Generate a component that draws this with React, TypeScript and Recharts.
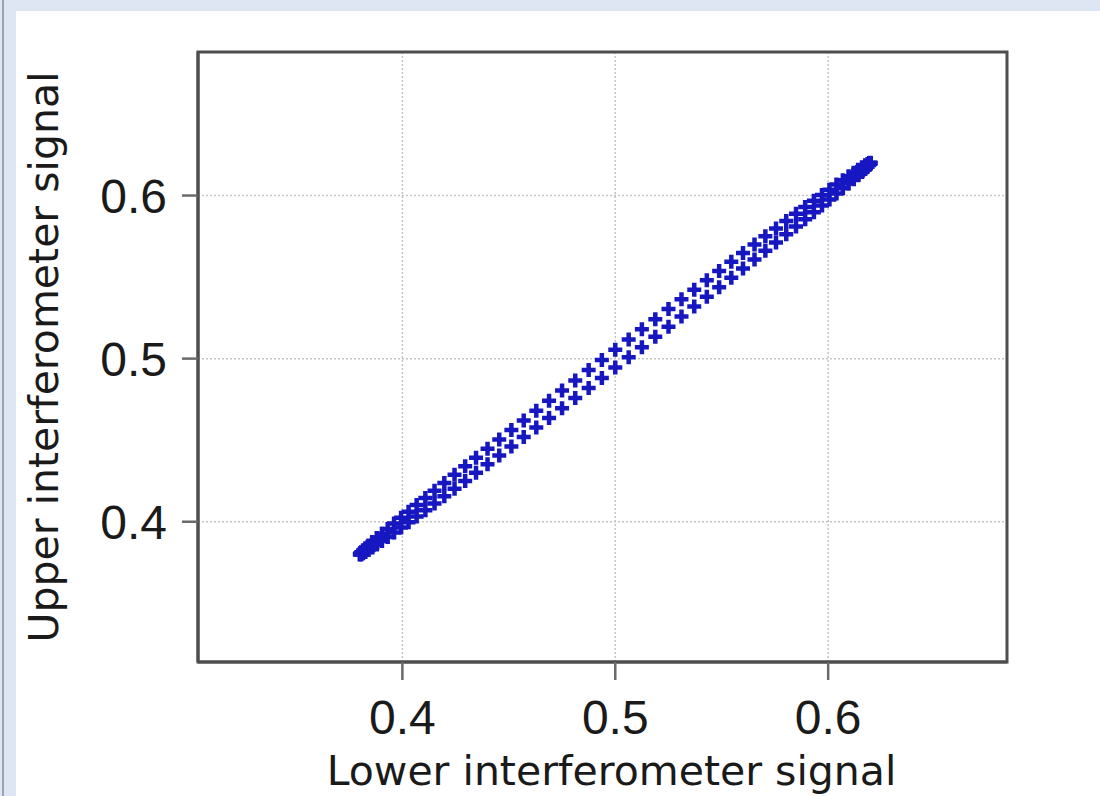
import { ReferenceArea, Scatter, ScatterChart, CartesianGrid, XAxis, YAxis } from "recharts"

// Lower interferometer signal (x), read around the loop
const lowerSignal = [
  0.5, 0.5063, 0.5125, 0.5188, 0.525, 0.5311, 0.5371, 0.543, 0.5488, 0.5545,
  0.56, 0.5654, 0.5705, 0.5755, 0.5803, 0.5849, 0.5892, 0.5933, 0.5971, 0.6006,
  0.6039, 0.6069, 0.6096, 0.612, 0.6141, 0.6159, 0.6174, 0.6185, 0.6193, 0.6198,
  0.62, 0.6198, 0.6193, 0.6185, 0.6174, 0.6159, 0.6141, 0.612, 0.6096, 0.6069,
  0.6039, 0.6006, 0.5971, 0.5933, 0.5892, 0.5849, 0.5803, 0.5755, 0.5705, 0.5654,
  0.56, 0.5545, 0.5488, 0.543, 0.5371, 0.5311, 0.525, 0.5188, 0.5125, 0.5063,
  0.5, 0.4937, 0.4875, 0.4812, 0.475, 0.4689, 0.4629, 0.457, 0.4512, 0.4455,
  0.44, 0.4346, 0.4295, 0.4245, 0.4197, 0.4151, 0.4108, 0.4067, 0.4029, 0.3994,
  0.3961, 0.3931, 0.3904, 0.388, 0.3859, 0.3841, 0.3826, 0.3815, 0.3807, 0.3802,
  0.38, 0.3802, 0.3807, 0.3815, 0.3826, 0.3841, 0.3859, 0.388, 0.3904, 0.3931,
  0.3961, 0.3994, 0.4029, 0.4067, 0.4108, 0.4151, 0.4197, 0.4245, 0.4295, 0.4346,
  0.44, 0.4455, 0.4512, 0.457, 0.4629, 0.4689, 0.475, 0.4812, 0.4875, 0.4937,
]

// Upper interferometer signal (y)
const upperSignal = [
  0.5055, 0.5118, 0.518, 0.5242, 0.5304, 0.5364, 0.5423, 0.5481, 0.5538, 0.5594,
  0.5648, 0.57, 0.575, 0.5798, 0.5844, 0.5888, 0.5929, 0.5968, 0.6003, 0.6036,
  0.6067, 0.6094, 0.6118, 0.614, 0.6158, 0.6173, 0.6185, 0.6194, 0.6199, 0.6201,
  0.62, 0.6195, 0.6187, 0.6176, 0.6163, 0.6145, 0.6124, 0.61, 0.6074, 0.6044,
  0.6012, 0.5976, 0.5939, 0.5898, 0.5855, 0.581, 0.5762, 0.5712, 0.5661, 0.5608,
  0.5552, 0.5496, 0.5438, 0.5379, 0.5319, 0.5258, 0.5196, 0.5134, 0.507, 0.5008,
  0.4945, 0.4882, 0.482, 0.4758, 0.4696, 0.4636, 0.4577, 0.4519, 0.4462, 0.4406,
  0.4352, 0.43, 0.425, 0.4202, 0.4156, 0.4112, 0.4071, 0.4032, 0.3997, 0.3964,
  0.3934, 0.3906, 0.3882, 0.386, 0.3842, 0.3827, 0.3815, 0.3806, 0.3801, 0.3799,
  0.38, 0.3805, 0.3813, 0.3824, 0.3837, 0.3855, 0.3876, 0.39, 0.3926, 0.3956,
  0.3989, 0.4024, 0.4061, 0.4102, 0.4145, 0.419, 0.4238, 0.4288, 0.434, 0.4392,
  0.4448, 0.4504, 0.4562, 0.4621, 0.4681, 0.4742, 0.4804, 0.4866, 0.493, 0.4992,
]

const tickValues = [0.4, 0.5, 0.6]
const xDomain = [0.304, 0.684]
const yDomain = [0.314, 0.688]

const data = lowerSignal.map((x, i) => ({ x, y: upperSignal[i] }))

const plusMarker = (props: any) => {
  const { cx, cy } = props
  if (cx == null || cy == null) return <g />
  return (
    <path
      d={`M${cx - 7},${cy} H${cx + 7} M${cx},${cy - 7} V${cy + 7}`}
      stroke="#1717c2"
      strokeWidth={4.5}
      fill="none"
    />
  )
}

const XLabel = (props: any) => {
  const vb = props.viewBox || { x: 198, y: 662, width: 809, height: 134 }
  return (
    <text
      x={vb.x + vb.width / 2 + 9}
      y={vb.y + vb.height - 11}
      textAnchor="middle"
      fontFamily="DejaVu Sans"
      fontSize={41}
      fill="#1a1a1a"
    >
      Lower interferometer signal
    </text>
  )
}

const YLabel = (props: any) => {
  const vb = props.viewBox || { x: 0, y: 52, width: 198, height: 610 }
  const cx = vb.x + 58
  const cy = vb.y + vb.height / 2
  return (
    <text
      x={cx}
      y={cy}
      transform={`rotate(-90, ${cx}, ${cy})`}
      textAnchor="middle"
      fontFamily="DejaVu Sans"
      fontSize={41}
      fill="#1a1a1a"
    >
      Upper interferometer signal
    </text>
  )
}

export default function App() {
  return (
    <div style={{ position: "absolute", left: 0, top: 0, width: 1100, height: 796, background: "#dde6f2", overflow: "hidden" }}>
      <div style={{ position: "absolute", left: 2, top: 0, width: 2, height: 796, background: "#9aa3ad" }} />
      <div style={{ position: "absolute", left: 16, top: 11, width: 1084, height: 785, background: "#ffffff" }} />
      <div style={{ position: "absolute", left: 0, top: 0 }}>
        <ScatterChart width={1100} height={796} margin={{ top: 52, right: 93, bottom: 0, left: 0 }}>
          <CartesianGrid stroke="#c4c4c4" strokeDasharray="2 2" strokeWidth={1.5} />
          <XAxis
            dataKey="x"
            type="number"
            domain={xDomain}
            ticks={tickValues}
            allowDataOverflow
            height={134}
            tickSize={18}
            tickMargin={20}
            tickFormatter={(v: number) => v.toFixed(1)}
            tick={{ fontSize: 48, fill: "#1a1a1a", fontFamily: "Liberation Sans" }}
            axisLine={{ stroke: "#4d4d4d", strokeWidth: 3 }}
            tickLine={{ stroke: "#6a6a6a", strokeWidth: 2.5 }}
            label={<XLabel />}
          />
          <YAxis
            dataKey="y"
            type="number"
            domain={yDomain}
            ticks={tickValues}
            allowDataOverflow
            width={198}
            tickSize={16}
            tickMargin={15}
            tickFormatter={(v: number) => v.toFixed(1)}
            tick={{ fontSize: 48, fill: "#1a1a1a", fontFamily: "Liberation Sans" }}
            axisLine={{ stroke: "#4d4d4d", strokeWidth: 3 }}
            tickLine={{ stroke: "#6a6a6a", strokeWidth: 2.5 }}
            label={<YLabel />}
          />
          <ReferenceArea
            x1={xDomain[0]}
            x2={xDomain[1]}
            y1={yDomain[0]}
            y2={yDomain[1]}
            fill="none"
            stroke="#4d4d4d"
            strokeWidth={3}
            ifOverflow="visible"
          />
          <Scatter data={data} shape={plusMarker} isAnimationActive={false} />
        </ScatterChart>
      </div>
    </div>
  )
}
